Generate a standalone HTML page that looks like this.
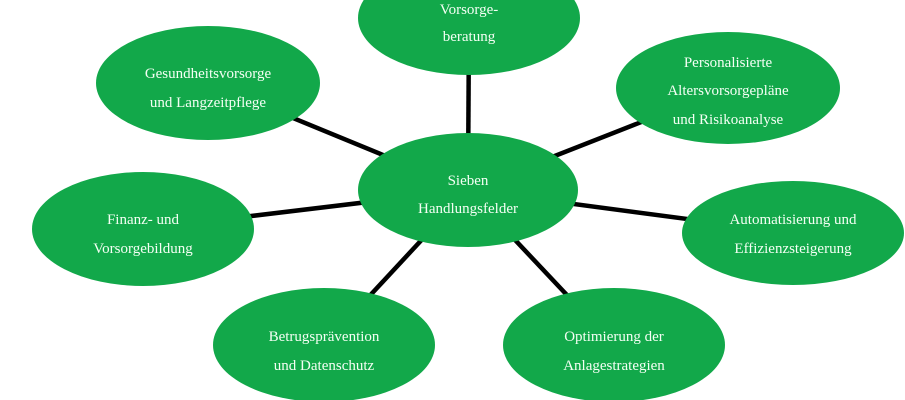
<!DOCTYPE html>
<html><head><meta charset="utf-8"><style>
html,body{margin:0;padding:0;background:#fff;width:905px;height:400px;overflow:hidden}
text{font-family:"Liberation Serif",serif;font-size:15px;fill:#f4fff4;text-anchor:middle}
</style></head><body>
<svg width="905" height="400" xmlns="http://www.w3.org/2000/svg">
<g stroke="#000" stroke-width="4.5">
<line x1="468" y1="190" x2="469" y2="18"/>
<line x1="468" y1="190" x2="208" y2="83"/>
<line x1="468" y1="190" x2="728" y2="88"/>
<line x1="468" y1="190" x2="143" y2="229"/>
<line x1="468" y1="190" x2="793" y2="233"/>
<line x1="468" y1="190" x2="324" y2="345"/>
<line x1="468" y1="190" x2="614" y2="345"/>
</g>
<g fill="#12a84a">
<ellipse cx="469" cy="18" rx="111" ry="57"/>
<ellipse cx="208" cy="83" rx="112" ry="57"/>
<ellipse cx="728" cy="88" rx="112" ry="56"/>
<ellipse cx="468" cy="190" rx="110" ry="57"/>
<ellipse cx="143" cy="229" rx="111" ry="57"/>
<ellipse cx="793" cy="233" rx="111" ry="52"/>
<ellipse cx="324" cy="345" rx="111" ry="57"/>
<ellipse cx="614" cy="345" rx="111" ry="57"/>
</g>
<text x="469" y="14">Vorsorge-</text>
<text x="469" y="41">beratung</text>
<text x="208" y="78">Gesundheitsvorsorge</text>
<text x="208" y="107">und Langzeitpflege</text>
<text x="728" y="67">Personalisierte</text>
<text x="728" y="95">Altersvorsorgepläne</text>
<text x="728" y="124">und Risikoanalyse</text>
<text x="468" y="185">Sieben</text>
<text x="468" y="213">Handlungsfelder</text>
<text x="143" y="224">Finanz- und</text>
<text x="143" y="253">Vorsorgebildung</text>
<text x="793" y="224">Automatisierung und</text>
<text x="793" y="253">Effizienzsteigerung</text>
<text x="324" y="341">Betrugsprävention</text>
<text x="324" y="370">und Datenschutz</text>
<text x="614" y="341">Optimierung der</text>
<text x="614" y="370">Anlagestrategien</text>
</svg>
</body></html>
